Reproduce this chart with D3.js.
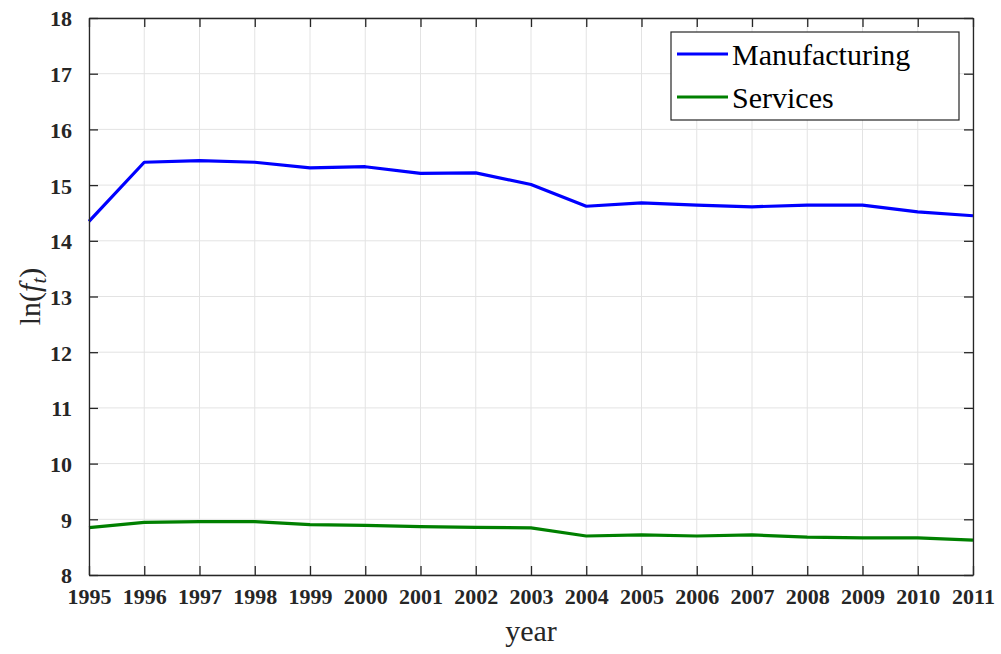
<!DOCTYPE html>
<html>
<head>
<meta charset="utf-8">
<script src="https://cdn.jsdelivr.net/npm/d3@7"></script>
<style>
  body { margin: 0; background: #fff; }
  svg { display: block; }
</style>
</head>
<body>
<svg id="viz" width="1001" height="654"></svg>
<script>
const years = d3.range(1995, 2012)
const manufacturing = [14.35, 15.41, 15.44, 15.41, 15.31, 15.33, 15.21, 15.22, 15.01, 14.62, 14.68, 14.64, 14.61, 14.64, 14.64, 14.52, 14.45]
const services = [8.85, 8.945, 8.96, 8.96, 8.905, 8.89, 8.87, 8.855, 8.845, 8.70, 8.72, 8.70, 8.72, 8.68, 8.665, 8.665, 8.625]
const yTicks = [8, 9, 10, 11, 12, 13, 14, 15, 16, 17, 18]
const seriesNames = ["Manufacturing", "Services"]
const seriesColors = ["#0000ff", "#008000"]

const serif = "'Liberation Serif', 'Times New Roman', Times, 'DejaVu Serif', 'Noto Serif', serif"

const svg = d3.select("#viz"),
    margin = {left: 89, right: 28, top: 18, bottom: 79},
    width = 1001 - margin.left - margin.right,
    height = 654 - margin.top - margin.bottom,
    axisColor = "#262626"

const x = d3.scaleLinear().domain([1995, 2011]).range([0, width])
const y = d3.scaleLinear().domain([8, 18]).range([height, 0])

const g = svg.append("g").attr("transform", `translate(${margin.left},${margin.top})`)

// grid
g.append("g").selectAll("line").data(years).enter().append("line")
    .attr("x1", d => x(d)).attr("x2", d => x(d))
    .attr("y1", 0).attr("y2", height)
    .attr("stroke", "#e3e3e3").attr("stroke-width", 1)
g.append("g").selectAll("line").data(yTicks).enter().append("line")
    .attr("y1", d => y(d)).attr("y2", d => y(d))
    .attr("x1", 0).attr("x2", width)
    .attr("stroke", "#e3e3e3").attr("stroke-width", 1)

// lines
const line = d3.line().x((d, i) => x(years[i])).y(d => y(d))
const allSeries = [manufacturing, services]
allSeries.forEach((s, i) => {
    g.append("path").datum(s)
        .attr("d", line)
        .attr("fill", "none")
        .attr("stroke", seriesColors[i])
        .attr("stroke-width", 3.2)
        .attr("stroke-linejoin", "round")
})

// axes with ticks pointing inward on all four sides
const xAxis = g.append("g").attr("transform", `translate(0,${height})`)
    .call(d3.axisBottom(x).tickValues(years).tickFormat(d3.format("d")).tickSizeInner(-9).tickSizeOuter(0).tickPadding(18))
const xTop = g.append("g")
    .call(d3.axisTop(x).tickValues(years).tickFormat("").tickSizeInner(-9).tickSizeOuter(0))
const yAxis = g.append("g")
    .call(d3.axisLeft(y).tickValues(yTicks).tickFormat(d3.format("d")).tickSizeInner(-9).tickSizeOuter(0).tickPadding(17))
const yRight = g.append("g").attr("transform", `translate(${width},0)`)
    .call(d3.axisRight(y).tickValues(yTicks).tickFormat("").tickSizeInner(-9).tickSizeOuter(0))

;[xAxis, xTop, yAxis, yRight].forEach(a => {
    a.attr("font-family", null).attr("font-size", null)
    a.select(".domain").attr("stroke", axisColor).attr("stroke-width", 1.3)
    a.selectAll(".tick line").attr("stroke", axisColor).attr("stroke-width", 1.3)
    a.selectAll(".tick text")
        .style("font-family", serif)
        .style("font-weight", "bold")
        .style("font-size", "22px")
        .style("fill", axisColor)
})
xAxis.selectAll(".tick text").attr("dy", "0.5em")
yAxis.selectAll(".tick text").attr("dy", "0.36em")

// axis labels
svg.append("text")
    .style("font-family", serif).style("font-size", "30px").style("fill", axisColor)
    .attr("x", margin.left + width / 2).attr("y", 641)
    .attr("text-anchor", "middle").text("year")

const yl = svg.append("text")
    .style("font-family", serif).style("font-size", "30px").style("fill", axisColor)
    .attr("transform", `translate(40,${margin.top + height / 2}) rotate(-90)`)
    .attr("text-anchor", "middle")
yl.append("tspan").text("ln(")
yl.append("tspan").style("font-style", "italic").text("f")
yl.append("tspan").style("font-style", "italic").style("font-size", "21px").attr("dy", 6).text("t")
yl.append("tspan").attr("dy", -6).text(")")

// legend
const legend = svg.append("g").attr("transform", "translate(671,32)")
legend.append("rect")
    .attr("width", 288).attr("height", 88)
    .attr("fill", "#fff").attr("stroke", axisColor).attr("stroke-width", 1.2)
seriesNames.forEach((name, i) => {
    const row = legend.append("g").attr("transform", `translate(0,${22 + i * 43})`)
    row.append("line").attr("x1", 6).attr("x2", 57).attr("y1", 0).attr("y2", 0)
        .attr("stroke", seriesColors[i]).attr("stroke-width", 3.2)
    row.append("text").attr("x", 61).attr("y", 11)
        .style("font-family", serif).style("font-size", "30px").style("fill", "#000")
        .text(name)
})
</script>
</body>
</html>
